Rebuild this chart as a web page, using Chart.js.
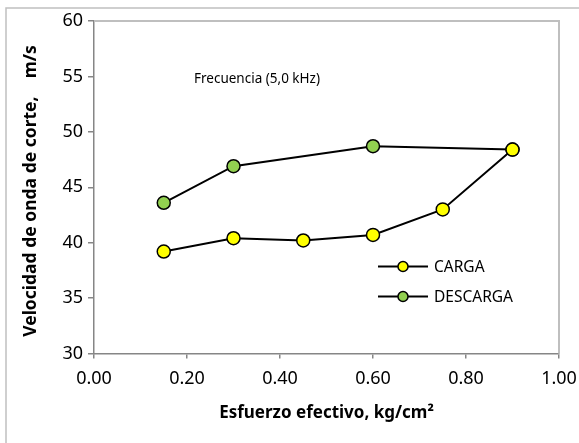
<!DOCTYPE html>
<html lang="es">
<head>
<meta charset="UTF-8">
<title>Velocidad de onda de corte</title>
<script src="https://cdn.jsdelivr.net/npm/chart.js@4.4.1/dist/chart.umd.min.js"></script>
<style>
  html, body { margin: 0; padding: 0; background: #fff; }
</style>
</head>
<body>
<canvas id="grafico" width="579" height="443"></canvas>
<script>
// datos
const cargaX = [0.15, 0.30, 0.45, 0.60, 0.75, 0.90];
const cargaY = [39.2, 40.4, 40.2, 40.7, 43.0, 48.4];
const descargaX = [0.15, 0.30, 0.60, 0.90];
const descargaY = [43.6, 46.9, 48.7, 48.4];

const ejeX = { min: 0, max: 1, paso: 0.2 };
const ejeY = { min: 30, max: 60, paso: 5 };

const tituloX = 'Esfuerzo efectivo, kg/cm²';
const tituloY = 'Velocidad de onda de corte,    m/s';
const nota = 'Frecuencia (5,0 kHz)';

const fuente = "'Noto Sans', 'Open Sans', sans-serif";

function puntos(xs, ys) {
  return xs.map((x, i) => ({ x: x, y: ys[i] }));
}

// bordes, titulos, nota y leyenda
const extras = {
  id: 'extras',
  beforeDraw(chart) {
    const ctx = chart.ctx;
    ctx.save();
    ctx.fillStyle = '#fff';
    ctx.fillRect(0, 0, chart.width, chart.height);
    ctx.strokeStyle = '#c0c0c0';
    ctx.lineWidth = 1.5;
    ctx.beginPath();
    ctx.moveTo(6, chart.height);
    ctx.lineTo(6, 8);
    ctx.lineTo(chart.width, 8);
    ctx.stroke();
    ctx.restore();
  },
  beforeDatasetsDraw(chart) {
    const ctx = chart.ctx, a = chart.chartArea;
    ctx.save();
    ctx.strokeStyle = '#bfbfbf';
    ctx.lineWidth = 2;
    ctx.beginPath();
    ctx.moveTo(a.left, a.top);
    ctx.lineTo(a.right, a.top);
    ctx.lineTo(a.right, a.bottom);
    ctx.stroke();
    ctx.restore();
  },
  afterDraw(chart) {
    const ctx = chart.ctx, a = chart.chartArea;
    ctx.save();
    ctx.fillStyle = '#000';
    ctx.textAlign = 'center';
    ctx.textBaseline = 'middle';

    ctx.font = 'bold 17px ' + fuente;
    ctx.fillText(tituloX, (a.left + a.right) / 2, 413);

    ctx.font = 'bold 17.5px ' + fuente;
    ctx.translate(31, 191);
    ctx.rotate(-Math.PI / 2);
    ctx.fillText(tituloY, 0, 0);
    ctx.setTransform(1, 0, 0, 1, 0, 0);

    ctx.font = '13.5px ' + fuente;
    ctx.textAlign = 'left';
    ctx.fillText(nota, 194, 79);

    // leyenda
    ctx.font = '15.5px ' + fuente;
    chart.data.datasets.forEach((ds, i) => {
      const y = 266.5 + i * 30;
      ctx.strokeStyle = '#000';
      ctx.lineWidth = 2;
      ctx.beginPath();
      ctx.moveTo(378, y);
      ctx.lineTo(428, y);
      ctx.stroke();
      ctx.beginPath();
      ctx.arc(403, y, 5, 0, Math.PI * 2);
      ctx.fillStyle = ds.backgroundColor;
      ctx.fill();
      ctx.lineWidth = 1.5;
      ctx.stroke();
      ctx.fillStyle = '#000';
      ctx.fillText(ds.label, 434, y + 1);
    });
    ctx.restore();
  }
};

const ticksComun = { color: '#000', font: { family: fuente, size: 18 } };

new Chart(document.getElementById('grafico'), {
  type: 'scatter',
  data: {
    datasets: [
      {
        label: 'CARGA',
        data: puntos(cargaX, cargaY),
        showLine: true,
        borderColor: '#000',
        borderWidth: 2,
        backgroundColor: '#ffff00',
        pointBorderColor: '#000',
        pointBorderWidth: 1.5,
        pointRadius: 6.5,
        pointHoverRadius: 6.5
      },
      {
        label: 'DESCARGA',
        data: puntos(descargaX, descargaY),
        showLine: true,
        borderColor: '#000',
        borderWidth: 2,
        backgroundColor: '#92d050',
        pointBorderColor: '#000',
        pointBorderWidth: 1.5,
        pointRadius: 6.5,
        pointHoverRadius: 6.5
      }
    ]
  },
  options: {
    responsive: false,
    animation: false,
    layout: { padding: { top: 21, right: 20, left: 0, bottom: 0 } },
    plugins: { legend: { display: false }, tooltip: { enabled: false } },
    scales: {
      x: {
        type: 'linear',
        min: ejeX.min, max: ejeX.max,
        afterFit(s) { s.height = 89.5; s.paddingLeft = 0; s.paddingRight = 0; },
        border: { color: '#868686', width: 1.5 },
        grid: { drawOnChartArea: false, tickLength: 5, color: '#868686', lineWidth: 1.5 },
        ticks: Object.assign({}, ticksComun, {
          stepSize: ejeX.paso, padding: 10,
          callback: v => v.toFixed(2)
        })
      },
      y: {
        min: ejeY.min, max: ejeY.max,
        afterFit(s) { s.width = 94; s.paddingTop = 0; s.paddingBottom = 0; },
        border: { color: '#868686', width: 1.5 },
        grid: { drawOnChartArea: false, tickLength: 6, color: '#868686', lineWidth: 1.5 },
        ticks: Object.assign({}, ticksComun, { stepSize: ejeY.paso, padding: 5 })
      }
    }
  },
  plugins: [extras]
});
</script>
</body>
</html>
